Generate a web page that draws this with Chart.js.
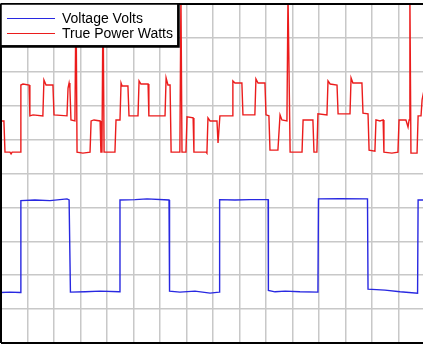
<!DOCTYPE html>
<html>
<head>
<meta charset="utf-8">
<script src="https://cdn.jsdelivr.net/npm/chart.js@4/dist/chart.umd.min.js"></script>
<style>
  html, body { margin: 0; padding: 0; background: #fff; overflow: hidden; }
  #wrap { position: relative; width: 425px; height: 348px; }
</style>
</head>
<body>
<div id="wrap"><canvas id="scope"></canvas></div>
<script>
// Series labels (legend)
const seriesNames = ["Voltage Volts", "True Power Watts"];

// Voltage trace: time in grid divisions, value in grid divisions
const voltageTime = [
  0, 0.34, 0.72, 0.75, 1.28, 1.85, 2.49, 2.57, 2.60, 2.62, 3.17, 3.74, 4.47,
  4.49, 5.06, 5.51, 6.34, 6.36, 6.75, 7.32, 7.89, 8.23, 8.25, 8.83, 9.40, 10.08,
  10.09, 10.34, 10.72, 11.28, 11.96, 11.98, 12.79, 13.83, 13.85, 14.49, 15.06,
  15.72, 15.74, 16.0
];
const voltageValues = [
  1.49, 1.50, 1.49, 4.20, 4.22, 4.20, 4.25, 4.22, 4.22, 1.50, 1.51, 1.53, 1.51,
  4.22, 4.23, 4.25, 4.22, 1.53, 1.50, 1.53, 1.47, 1.50, 4.23, 4.22, 4.23, 4.23,
  1.55, 1.51, 1.53, 1.51, 1.50, 4.25, 4.26, 4.25, 1.59, 1.56, 1.51,
  1.47, 4.22, 4.22
];

// True power trace
const powerTime = [
  0, 0.11, 0.15, 0.34, 0.38, 0.42, 0.72, 0.75, 0.83, 1.06, 1.09, 1.21, 1.58,
  1.62, 1.70, 1.96, 2.00, 2.49, 2.53, 2.57, 2.60, 2.64, 2.79, 2.83, 2.87, 3.09,
  3.36, 3.40, 3.51, 3.74, 3.77, 3.81, 3.85, 3.89, 4.30, 4.34, 4.49, 4.53, 4.57,
  4.79, 4.83, 5.17, 5.21, 5.28, 5.55, 5.58, 6.19, 6.23, 6.30, 6.38, 6.42, 6.75,
  6.79, 6.83, 6.98, 7.02, 7.25, 7.28, 7.74, 7.77, 7.81, 7.89, 8.15, 8.19, 8.26,
  8.72, 8.75, 8.83, 9.09, 9.13, 9.58, 9.62, 9.70, 9.96, 10.00, 10.11, 10.15,
  10.45, 10.53, 10.60, 10.79, 10.83, 10.91, 11.36, 11.40, 11.77, 11.81, 11.92,
  11.96, 12.30, 12.34, 12.42, 12.68, 12.72, 13.17, 13.21, 13.28, 13.62, 13.66,
  13.85, 13.89, 14.11, 14.15, 14.30, 14.42, 14.45, 14.75, 14.98, 15.02, 15.28,
  15.36, 15.40, 15.43, 15.47, 15.70, 15.74, 15.85, 15.89, 16.0
];
const powerValues = [
  6.55, 6.55, 5.63, 5.63, 5.58, 5.63, 5.63, 7.61, 7.64, 7.61, 6.70, 6.73, 6.70,
  7.76, 7.61, 7.61, 6.73, 6.70, 7.52, 7.67, 7.52, 6.58, 6.55, 10.3, 5.63, 5.60,
  5.63, 6.55, 6.58, 6.55, 5.63, 5.63, 10.3, 5.63, 5.63, 6.58, 6.58, 7.67, 7.58,
  7.58, 6.70, 6.70, 7.73, 7.64, 7.64, 6.70, 6.70, 7.82, 7.61, 7.61, 5.63, 5.63,
  10.3, 5.63, 5.63, 6.67, 6.64, 5.63, 5.63, 5.60, 6.64, 6.55, 6.55, 5.90, 6.70,
  6.70, 7.73, 7.67, 7.67, 6.73, 6.73, 7.79, 7.67, 7.67, 6.73, 6.70, 5.69,
  5.69, 6.73, 6.58, 6.55, 10.3, 5.63, 5.63, 6.58, 6.58, 5.63, 5.63,
  6.76, 6.73, 7.73, 7.64, 7.61, 6.76, 6.76, 7.82, 7.67, 7.67, 6.78,
  6.76, 5.69, 5.66, 6.58, 6.55, 6.58, 5.63, 5.60, 5.63, 6.58, 6.58,
  6.37, 6.58, 10.3, 5.60, 5.60, 6.70, 6.70, 7.17, 7.61
];

const seriesColors = ["rgb(40, 40, 225)", "rgb(235, 28, 28)"];

// frame round the plot area + boxed legend in the top-left corner
const scopeFrame = {
  id: "scopeFrame",
  afterDraw(chart) {
    const { ctx, chartArea: a } = chart;
    ctx.save();
    ctx.strokeStyle = "#000";
    ctx.lineWidth = 2;
    ctx.beginPath();
    ctx.moveTo(a.left, a.top);
    ctx.lineTo(a.right + 2, a.top);
    ctx.moveTo(a.left, a.bottom);
    ctx.lineTo(a.right + 2, a.bottom);
    ctx.moveTo(a.left, a.top);
    ctx.lineTo(a.left, a.bottom);
    ctx.stroke();

    // legend box, heavier on right and bottom
    ctx.fillStyle = "#fff";
    ctx.fillRect(a.left, a.top, 177, 42);
    ctx.lineWidth = 1.5;
    ctx.strokeRect(a.left, a.top, 177, 42);
    ctx.lineWidth = 2.5;
    ctx.beginPath();
    ctx.moveTo(a.left + 177.5, a.top);
    ctx.lineTo(a.left + 177.5, a.top + 42.5);
    ctx.lineTo(a.left, a.top + 42.5);
    ctx.stroke();

    ctx.font = "14px 'Liberation Sans', Arial, sans-serif";
    ctx.textBaseline = "middle";
    chart.data.datasets.forEach((ds, i) => {
      const y = Math.round(a.top + 14 + i * 15) + 0.5;
      ctx.strokeStyle = seriesColors[i];
      ctx.lineWidth = 1.2;
      ctx.beginPath();
      ctx.moveTo(7, y);
      ctx.lineTo(55, y);
      ctx.stroke();
      ctx.fillStyle = "#000";
      ctx.fillText(ds.label, 62, y + 1);
    });
    ctx.restore();
  },
};

const gridAxis = (max) => ({
  type: "linear",
  min: 0,
  max: max,
  ticks: { display: false, stepSize: 1 },
  grid: { color: "#c8c8c8", lineWidth: 1.5, drawTicks: false },
  border: { display: false },
});

new Chart(document.getElementById("scope"), {
  type: "line",
  data: {
    datasets: [
      {
        label: seriesNames[0],
        data: voltageTime.map((t, i) => ({ x: t, y: voltageValues[i] })),
        borderColor: seriesColors[0],
        borderWidth: 1.4,
        pointRadius: 0,
        tension: 0,
      },
      {
        label: seriesNames[1],
        data: powerTime.map((t, i) => ({ x: t, y: powerValues[i] })),
        borderColor: seriesColors[1],
        borderWidth: 1.4,
        pointRadius: 0,
        tension: 0,
      },
    ],
  },
  options: {
    responsive: true,
    maintainAspectRatio: false,
    animation: false,
    layout: { padding: { left: 1, top: 4, right: 0, bottom: 5 } },
    plugins: {
      legend: { display: false },
      tooltip: { enabled: false },
    },
    scales: {
      x: gridAxis(16),
      y: gridAxis(10),
    },
  },
  plugins: [scopeFrame],
});
</script>
</body>
</html>
